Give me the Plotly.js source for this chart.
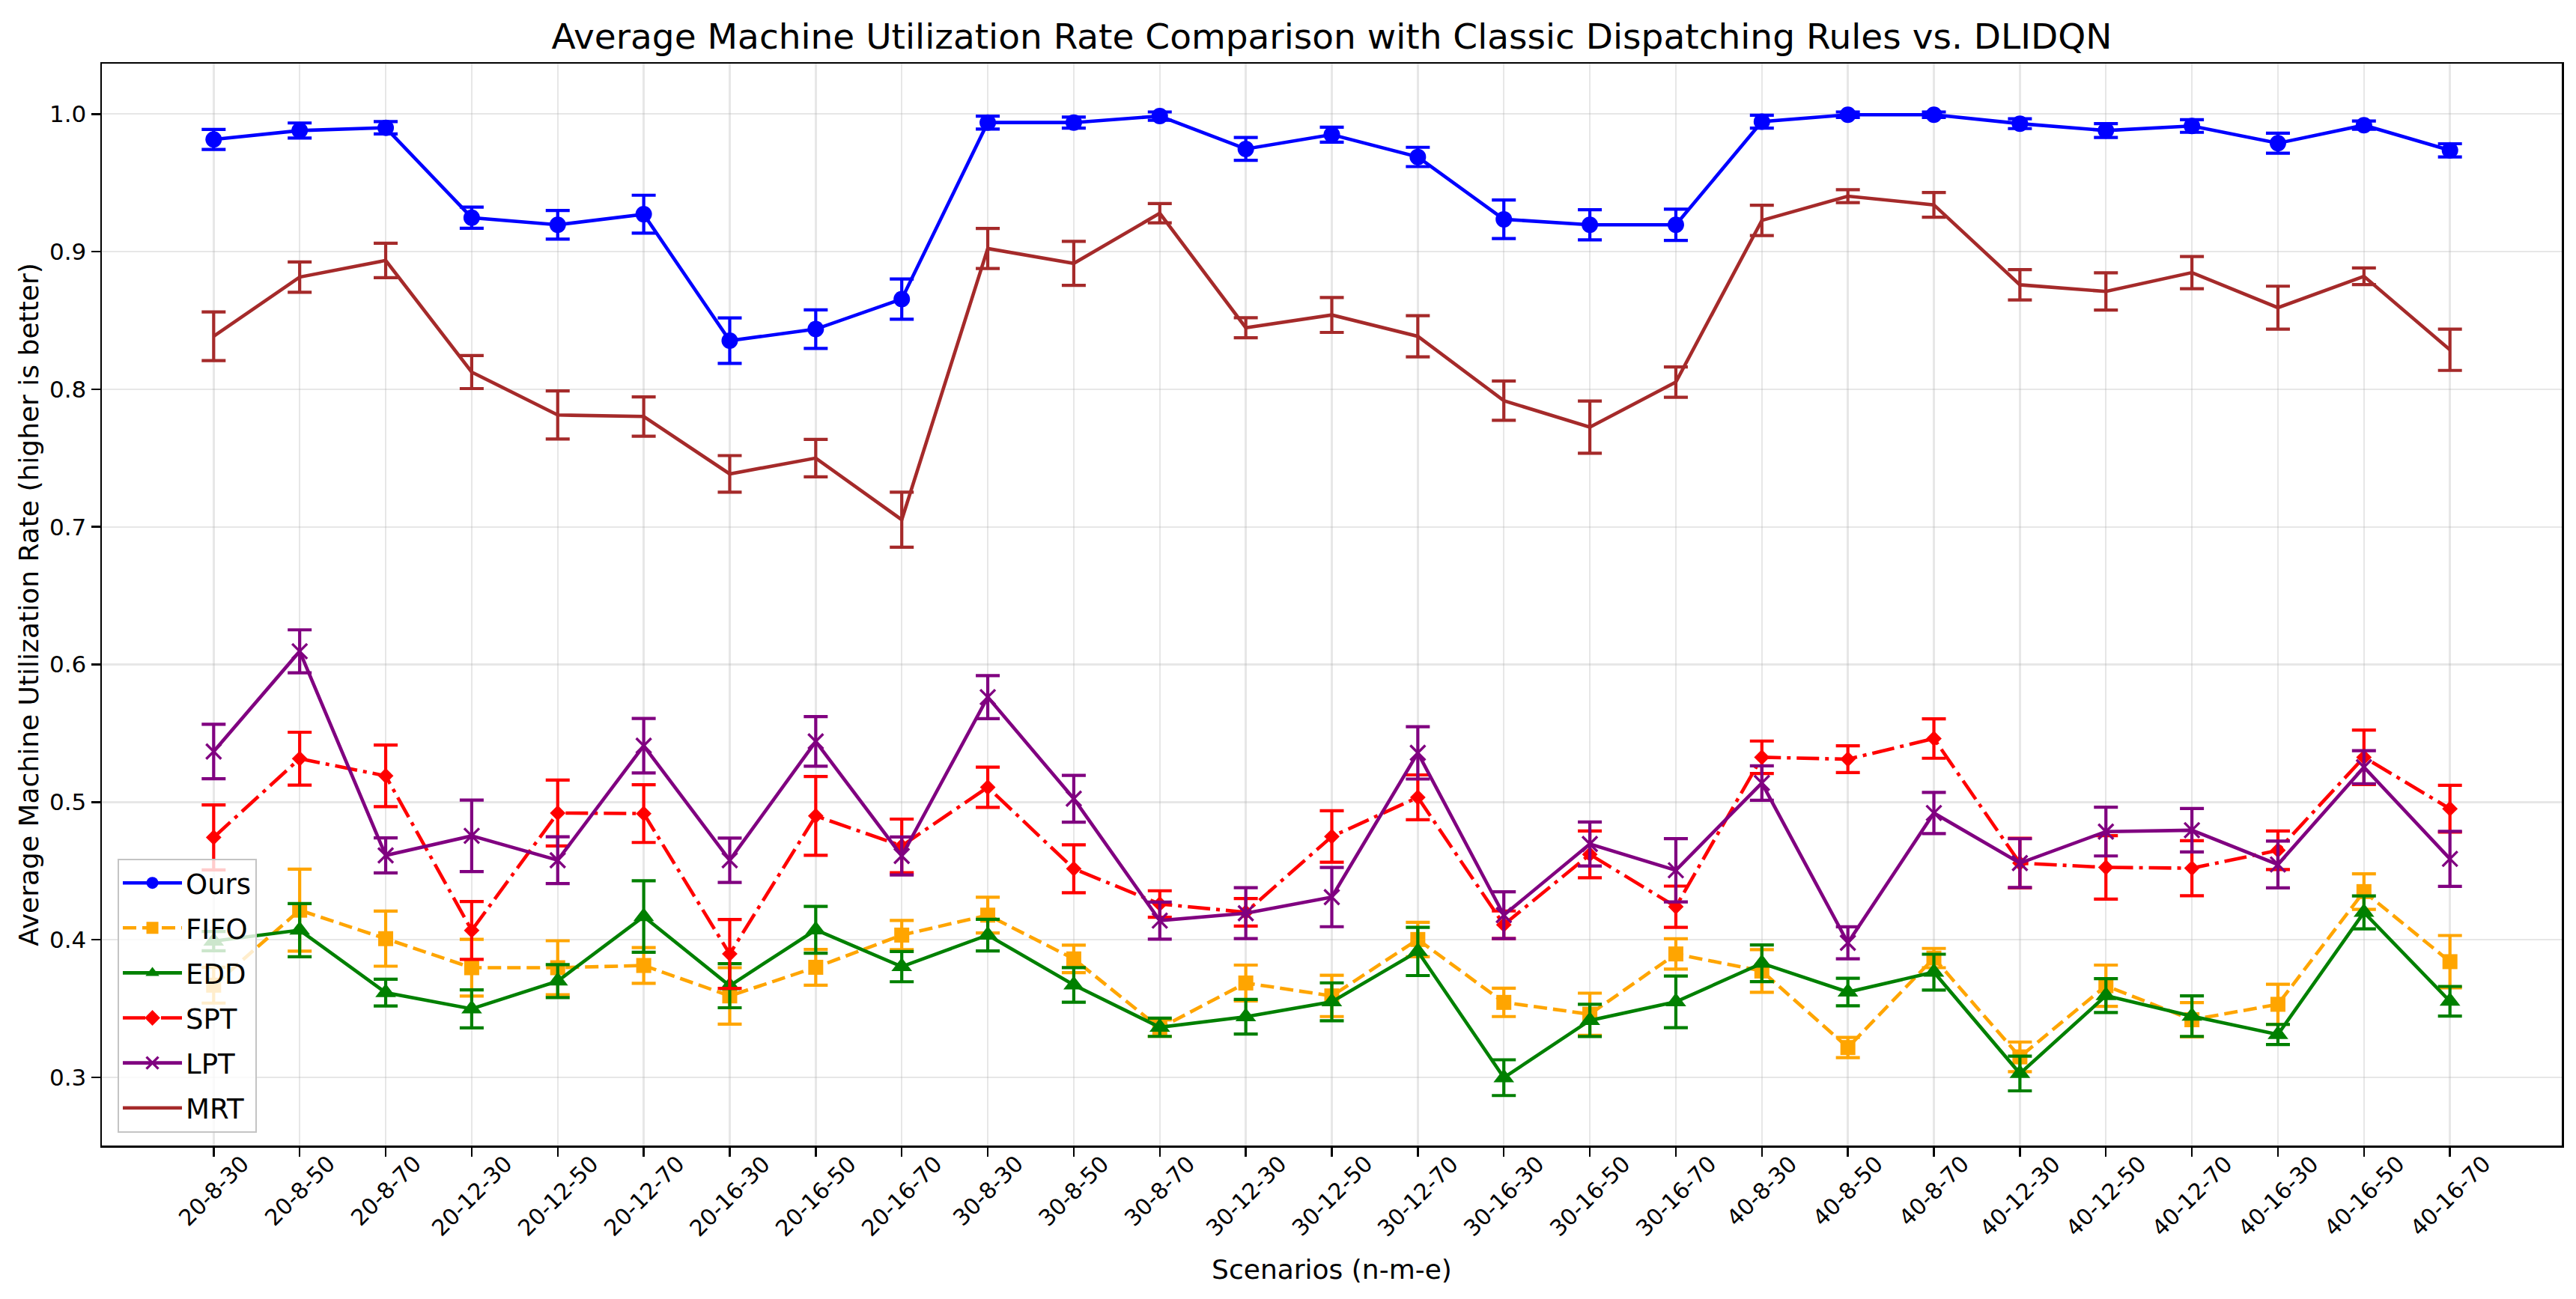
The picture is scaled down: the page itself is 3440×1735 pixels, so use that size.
<!DOCTYPE html>
<html>
<head>
<meta charset="utf-8">
<script src="https://cdn.plot.ly/plotly-3.0.1.min.js"></script>
<style>
html,body{margin:0;padding:0;background:#fff;}
#chart{width:3440px;height:1735px;}
</style>
</head>
<body>
<div id="chart"></div>
<script>
const scenarios = ['20-8-30','20-8-50','20-8-70','20-12-30','20-12-50','20-12-70','20-16-30','20-16-50','20-16-70',
  '30-8-30','30-8-50','30-8-70','30-12-30','30-12-50','30-12-70','30-16-30','30-16-50','30-16-70',
  '40-8-30','40-8-50','40-8-70','40-12-30','40-12-50','40-12-70','40-16-30','40-16-50','40-16-70'];

const oursMean = [0.9815,0.988,0.990,0.9247,0.9195,0.9272,0.8353,0.8437,0.8655,
  0.9938,0.9938,0.9985,0.9746,0.985,0.9688,0.9235,0.9195,0.9195,
  0.9944,0.9995,0.9995,0.993,0.988,0.9913,0.9788,0.9919,0.9736];
const oursErr = [0.0073,0.0055,0.0045,0.0077,0.0104,0.0138,0.0165,0.014,0.0146,
  0.0047,0.004,0.003,0.0083,0.0054,0.007,0.014,0.011,0.0114,
  0.0047,0.002,0.002,0.0036,0.005,0.0046,0.0073,0.003,0.0048];

const fifoMean = [0.367,0.4215,0.4008,0.3797,0.3797,0.3813,0.3592,0.380,0.4034,
  0.4179,0.3861,0.3358,0.3686,0.3592,0.4002,0.3545,0.3459,0.3897,
  0.3773,0.3217,0.3867,0.3149,0.3666,0.3419,0.3531,0.435,0.3841];
const fifoErr = [0.013,0.0298,0.02,0.0206,0.0196,0.013,0.0205,0.013,0.0106,
  0.013,0.01,0.006,0.013,0.015,0.0125,0.0103,0.0153,0.011,
  0.0155,0.0073,0.007,0.0108,0.015,0.0124,0.0146,0.0129,0.019];

const eddMean = [0.399,0.407,0.3616,0.3498,0.370,0.4169,0.3666,0.4072,0.3805,
  0.4034,0.3672,0.3364,0.3441,0.3549,0.3915,0.2998,0.3414,0.3549,
  0.3829,0.362,0.3765,0.3028,0.3594,0.3445,0.3312,0.4199,0.3553];
const eddErr = [0.007,0.0193,0.0097,0.0138,0.012,0.026,0.016,0.017,0.011,
  0.0115,0.0126,0.0066,0.0126,0.0138,0.0175,0.013,0.0117,0.0188,
  0.0133,0.01,0.013,0.0126,0.0123,0.0147,0.0073,0.012,0.0108];

const sptMean = [0.4744,0.5316,0.5191,0.4068,0.4921,0.4917,0.3897,0.490,0.4682,
  0.5108,0.4516,0.426,0.420,0.475,0.5035,0.4109,0.462,0.424,
  0.5326,0.5312,0.5462,0.4557,0.4526,0.452,0.465,0.5326,0.4952];
const sptErr = [0.0236,0.0192,0.0224,0.021,0.0239,0.021,0.025,0.0286,0.0195,
  0.0146,0.0174,0.0096,0.01,0.0187,0.0163,0.01,0.017,0.015,
  0.0118,0.0097,0.0143,0.018,0.023,0.02,0.014,0.0198,0.017];

const lptMean = [0.5368,0.6096,0.4613,0.4755,0.4578,0.541,0.4578,0.5441,0.4609,
  0.5763,0.5025,0.4139,0.4193,0.431,0.5358,0.4179,0.4696,0.4505,
  0.5139,0.3978,0.4921,0.4557,0.4786,0.4796,0.4547,0.5254,0.4588];
const lptErr = [0.0198,0.0156,0.0127,0.026,0.017,0.0198,0.0161,0.018,0.0138,
  0.0156,0.017,0.0135,0.0185,0.0215,0.019,0.017,0.016,0.023,
  0.0125,0.0116,0.015,0.0177,0.0177,0.0158,0.017,0.012,0.02];

const mrtMean = [0.8385,0.8815,0.8936,0.8125,0.7813,0.7802,0.7385,0.750,0.7052,
  0.9023,0.8915,0.9279,0.8447,0.854,0.8385,0.7917,0.7725,0.8052,
  0.9227,0.9403,0.934,0.8759,0.8711,0.8848,0.8593,0.8821,0.8287];
const mrtErr = [0.0177,0.011,0.0125,0.012,0.0175,0.0143,0.0133,0.0136,0.02,
  0.0146,0.016,0.007,0.0073,0.0127,0.015,0.0143,0.019,0.011,
  0.011,0.0047,0.009,0.011,0.0135,0.0117,0.0156,0.006,0.015];

const yTicks = [0.3,0.4,0.5,0.6,0.7,0.8,0.9,1.0];

const LW = 4.6;
function series(name, mean, err, color, dash, symbol, size) {
  const t = {
    type: 'scatter', x: scenarios, y: mean, name: name, legendgroup: name,
    mode: symbol ? 'lines+markers' : 'lines',
    line: {color: color, width: LW, dash: dash},
    error_y: {type: 'data', array: err, visible: true, color: color, thickness: 4.2, width: 16}
  };
  if (symbol) {
    t.marker = {symbol: symbol, size: size, color: color, line: {color: color, width: symbol === 'x-thin' ? 3.4 : 0}};
  }
  return t;
}

const data = [
  series('Ours', oursMean, oursErr, 'blue', 'solid', 'circle', 22),
  series('FIFO', fifoMean, fifoErr, 'orange', '18px,8px', 'square', 20),
  series('EDD', eddMean, eddErr, 'green', 'solid', 'triangle-up', 24),
  series('SPT', sptMean, sptErr, 'red', '30px,8px,5px,8px', 'diamond', 16),
  series('LPT', lptMean, lptErr, 'purple', 'solid', 'x-thin', 20),
  series('MRT', mrtMean, mrtErr, 'brown', 'solid', null, 0)
];

const font = 'DejaVu Sans, Liberation Sans, sans-serif';
const annotations = scenarios.map(s => ({
  text: s, x: s, xref: 'x', y: 0, yref: 'paper', yshift: -4,
  xanchor: 'center', yanchor: 'top', textangle: -45, showarrow: false,
  font: {family: font, size: 30, color: '#000'}
}));

const gridCol = 'rgba(176,176,176,0.3)';
const layout = {
  width: 3440, height: 1735,
  margin: {l: 136, r: 19, t: 85, b: 205},
  paper_bgcolor: '#fff', plot_bgcolor: '#fff',
  font: {family: font, color: '#000'},
  title: {
    text: 'Average Machine Utilization Rate Comparison with Classic Dispatching Rules vs. DLIDQN',
    font: {family: font, size: 47, color: '#000'},
    x: 0.5, xref: 'paper', xanchor: 'center',
    y: 1 - 49/1735, yref: 'container', yanchor: 'middle'
  },
  xaxis: {
    type: 'category', range: [-1.3, 27.3], autorange: false,
    showgrid: true, gridcolor: gridCol, gridwidth: 2.4,
    showline: true, linecolor: '#000', linewidth: 2.5, mirror: true,
    ticks: 'outside', ticklen: 12, tickwidth: 2.5, tickcolor: '#000',
    showticklabels: false, zeroline: false, automargin: false,
    title: {text: 'Scenarios (n-m-e)', font: {family: font, size: 36, color: '#000'}, standoff: 140}
  },
  yaxis: {
    range: [0.2505, 1.0366], autorange: false,
    tickvals: yTicks, tickformat: '.1f',
    showgrid: true, gridcolor: gridCol, gridwidth: 2.4,
    showline: true, linecolor: '#000', linewidth: 2.5, mirror: true,
    ticks: 'outside', ticklen: 12, tickwidth: 2.5, tickcolor: '#000',
    tickfont: {family: font, size: 31, color: '#000'},
    zeroline: false, automargin: false,
    title: {text: 'Average Machine Utilization Rate (higher is better)', font: {family: font, size: 36, color: '#000'}, standoff: 4}
  },
  legend: {
    x: 0.0064, y: 0.012, xanchor: 'left', yanchor: 'bottom',
    bgcolor: 'rgba(255,255,255,0.8)', bordercolor: '#c4c4c4', borderwidth: 2,
    font: {family: font, size: 37, color: '#000'},
    itemwidth: 79, tracegroupgap: 9, traceorder: 'grouped'
  },
  annotations: annotations,
  showlegend: true
};

Plotly.newPlot('chart', data, layout, {displayModeBar: false, staticPlot: true});
</script>
</body>
</html>
